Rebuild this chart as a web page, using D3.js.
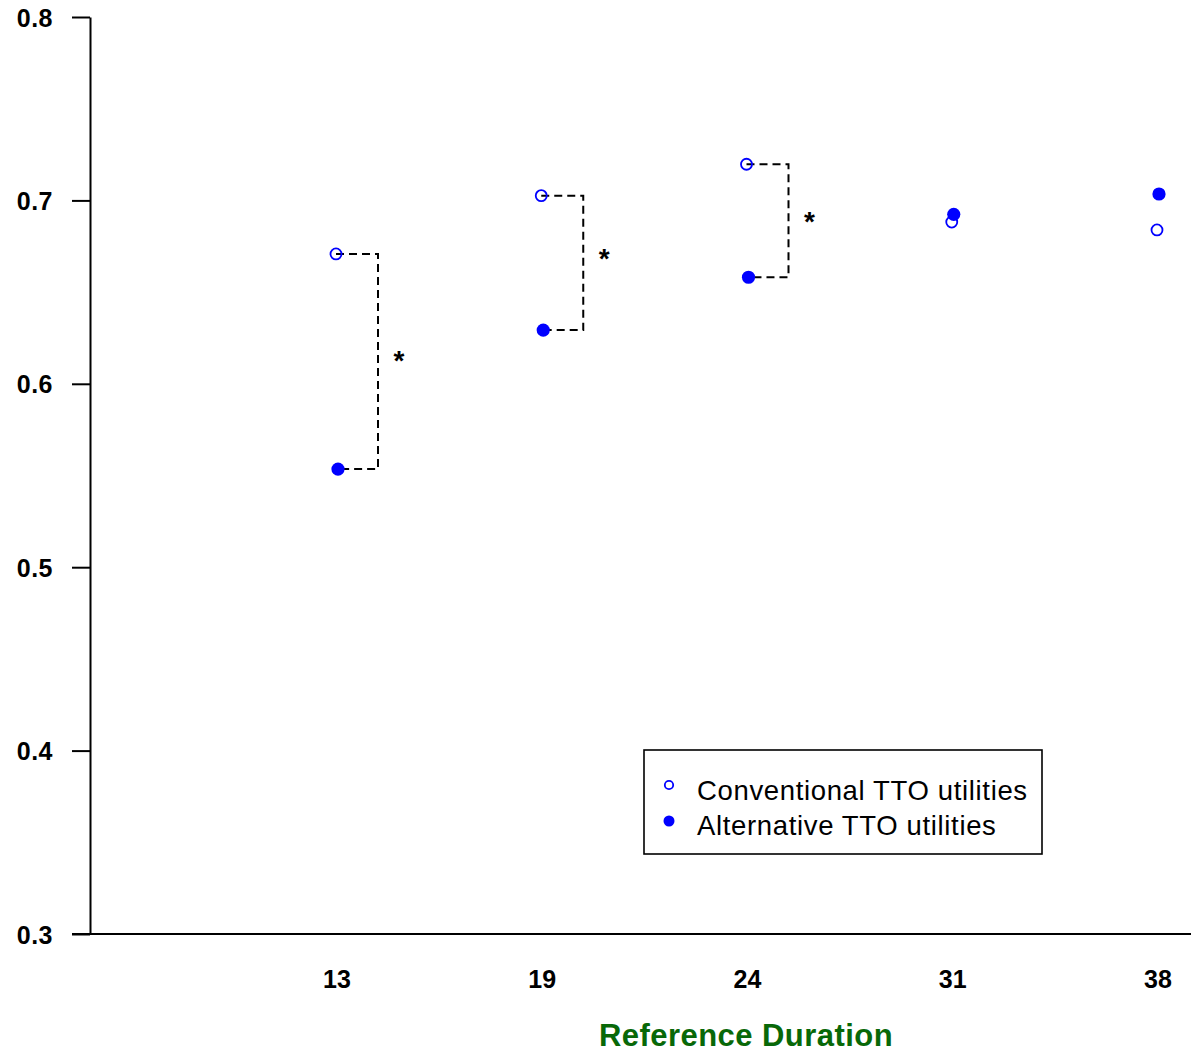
<!DOCTYPE html>
<html>
<head>
<meta charset="utf-8">
<script src="https://cdn.jsdelivr.net/npm/d3@7"></script>
<style>
  html, body { margin: 0; padding: 0; background: #fff; }
  svg text { font-family: "Liberation Sans", Arial, sans-serif; }
</style>
</head>
<body>
<svg id="chart" width="1191" height="1056"></svg>
<script>
// Reference durations on the x axis
const durations = ["13", "19", "24", "31", "38"];
// Mean utilities per duration
const conventional = [0.6708, 0.7026, 0.7197, 0.6882, 0.6839];
const alternative  = [0.5535, 0.6293, 0.6581, 0.6924, 0.7035];
// Durations with a significant difference, and where their asterisk sits
const significant = ["13", "19", "24"];
const starValues  = [0.615, 0.671, 0.691];
const yTicks = [0.3, 0.4, 0.5, 0.6, 0.7, 0.8];
const seriesNames = ["Conventional TTO utilities", "Alternative TTO utilities"];

const svg = d3.select("#chart");
const blue = "#0000ff";

const x = d3.scalePoint().domain(durations).range([337, 1158]);
const y = d3.scaleLinear().domain([0.3, 0.8]).range([934, 17]);

// Y axis: line with outward ticks
const yAxis = svg.append("g").attr("transform", "translate(90,0)")
  .call(d3.axisLeft(y).tickValues(yTicks).tickSize(18).tickSizeOuter(0).tickPadding(19)
        .tickFormat(d3.format(".1f")));
yAxis.select(".domain").attr("stroke", "#000").attr("stroke-width", 2);
yAxis.selectAll(".tick line").attr("stroke", "#000").attr("stroke-width", 2);
yAxis.selectAll(".tick text").attr("font-size", 25).attr("font-weight", "bold").attr("fill", "#000")
  .attr("font-family", "'Liberation Sans', Arial, sans-serif").attr("dy", "0.36em")
  .attr("letter-spacing", 0.5);

// X axis: a bare line with category labels underneath
svg.append("line").attr("x1", 72).attr("x2", 1191).attr("y1", y(0.3)).attr("y2", y(0.3))
  .attr("stroke", "#000").attr("stroke-width", 2);
svg.append("g").selectAll("text").data(durations).join("text")
  .attr("x", d => x(d)).attr("y", 988)
  .attr("text-anchor", "middle").attr("font-size", 25).attr("font-weight", "bold")
  .text(d => d);

// Axis title
svg.append("text").attr("x", 746).attr("y", 1046).attr("text-anchor", "middle")
  .attr("font-size", 31).attr("font-weight", "bold").attr("fill", "#086808")
  .attr("letter-spacing", 0.45)
  .text("Reference Duration");

// Dashed brackets joining the two means where the difference is significant
const brackets = svg.append("g");
significant.forEach((d, k) => {
  const i = durations.indexOf(d);
  const xa = x(d) - 1, xb = x(d) + 1, xr = x(d) + 41;
  brackets.append("path")
    .attr("d", `M${xa},${y(conventional[i])}H${xr}V${y(alternative[i])}H${xb}`)
    .attr("fill", "none").attr("stroke", "#000").attr("stroke-width", 2)
    .attr("stroke-dasharray", "8,5");
  brackets.append("text").attr("x", x(d) + 62).attr("y", y(starValues[k]) + 14)
    .attr("text-anchor", "middle").attr("font-size", 28).attr("font-weight", "bold").text("*");
});

// Conventional: open circles
svg.append("g").selectAll("circle").data(durations).join("circle")
  .attr("cx", d => x(d) - 1).attr("cy", (d, i) => y(conventional[i])).attr("r", 5.5)
  .attr("fill", "none").attr("stroke", blue).attr("stroke-width", 1.8);

// Alternative: filled circles
svg.append("g").selectAll("circle").data(durations).join("circle")
  .attr("cx", d => x(d) + 1).attr("cy", (d, i) => y(alternative[i])).attr("r", 6.6)
  .attr("fill", blue);

// Legend
const legend = svg.append("g");
legend.append("rect").attr("x", 644).attr("y", 750).attr("width", 398).attr("height", 104)
  .attr("fill", "#fff").attr("stroke", "#000").attr("stroke-width", 1.6);
legend.append("circle").attr("cx", 669).attr("cy", 785).attr("r", 4.2)
  .attr("fill", "none").attr("stroke", blue).attr("stroke-width", 1.8);
legend.append("circle").attr("cx", 669).attr("cy", 821).attr("r", 5.5).attr("fill", blue);
legend.selectAll("text").data(seriesNames).join("text")
  .attr("x", 697).attr("y", (d, i) => 800 + i * 35)
  .attr("font-size", 27.5).attr("letter-spacing", 0.65).attr("fill", "#000").text(d => d);
</script>
</body>
</html>
